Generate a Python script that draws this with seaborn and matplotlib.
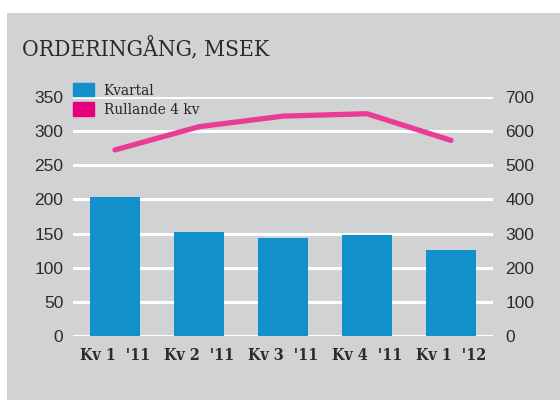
import matplotlib
matplotlib.use('Agg')
import matplotlib.pyplot as plt
import matplotlib.patches as mpatches
import seaborn as sns
import pandas as pd

# Data
quarters = ["Kv 1  '11", "Kv 2  '11", "Kv 3  '11", "Kv 4  '11", "Kv 1  '12"]
kvartal = [204, 152, 144, 148, 126]
rullande = [545, 613, 644, 651, 573]

bg = '#d1d2d4'
blue = '#1190cc'
pink = '#ea3c96'
txt = '#2b2b2b'

sns.set_style('white')
plt.rcParams['font.family'] = ['DejaVu Sans']

df = pd.DataFrame({'Kvartal': quarters, 'Varde': kvartal, 'Rullande': rullande})

fig = plt.figure(figsize=(5.6, 4.0), dpi=100, facecolor='white')
# gray panel behind everything
fig.add_artist(mpatches.Rectangle((7 / 560, 0), 1, 1 - 13 / 400, transform=fig.transFigure,
                                  facecolor=bg, edgecolor='none', zorder=-10))

ax = fig.add_axes([73 / 560, 64 / 400, 420 / 560, 239 / 400])
ax.set_facecolor('none')
sns.barplot(data=df, x='Kvartal', y='Varde', color=blue, width=0.607, saturation=1,
            edgecolor='none', linewidth=0, ax=ax, zorder=3)
ax.set_xlim(-0.5, len(quarters) - 0.5)
ax.set_ylim(0, 350)
ax.set_yticks(range(0, 351, 50))
ax.grid(axis='y', color='white', linewidth=2.2, zorder=0)
ax.set_axisbelow(True)
ax.set_xlabel('')
ax.set_ylabel('')
for s in ax.spines.values():
    s.set_visible(False)
ax.tick_params(axis='y', length=0, pad=7, labelsize=12.5, labelcolor=txt)
ax.tick_params(axis='x', length=0, pad=8, labelcolor=txt)
for lab in ax.get_yticklabels():
    lab.set_family('Liberation Sans')
for lab in ax.get_xticklabels():
    lab.set_family('DejaVu Serif')
    lab.set_fontstretch('condensed')
    lab.set_fontweight('heavy')
    lab.set_fontsize(11.5)

ax2 = ax.twinx()
sns.lineplot(x=list(range(len(quarters))), y=rullande, color=pink, linewidth=3.8, ax=ax2, zorder=4)
ax2.set_ylim(0, 700)
ax2.set_yticks(range(0, 701, 100))
for s in ax2.spines.values():
    s.set_visible(False)
ax2.tick_params(axis='y', length=0, pad=9, labelsize=12.5, labelcolor=txt)
for lab in ax2.get_yticklabels():
    lab.set_family('Liberation Sans')

handles = [mpatches.Patch(color=blue, label='Kvartal'),
           mpatches.Patch(color='#e6007e', label='Rullande 4 kv')]
fig.legend(handles=handles, loc='upper left', bbox_to_anchor=(73 / 560, 1 - 83 / 400),
           frameon=False, borderpad=0, borderaxespad=0, handlelength=1.4, handleheight=0.95,
           handletextpad=0.6, labelspacing=0.3,
           prop={'family': 'DejaVu Serif', 'stretch': 'condensed', 'size': 11})

fig.text(22 / 560, 1 - 56 / 400, 'ORDERINGÅNG, MSEK', family='DejaVu Serif', stretch='condensed',
         fontsize=16.4, color=txt, va='baseline', ha='left')

fig.savefig('out.png', dpi=100, facecolor='white')
